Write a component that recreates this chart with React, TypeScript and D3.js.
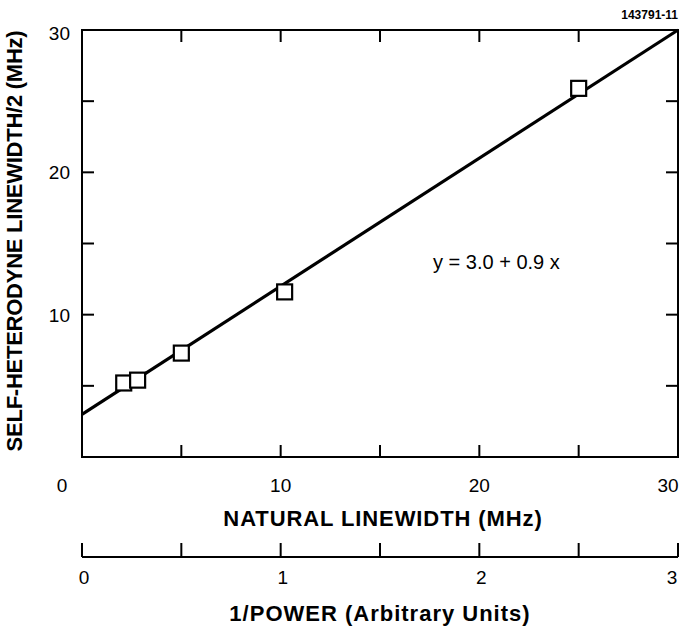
import React from "react";
import * as d3 from "d3";

const xTicks = [0, 5, 10, 15, 20, 25, 30];
const yTicks = [0, 5, 10, 15, 20, 25, 30];
const xTickLabels = [0, 10, 20, 30];
const yTickLabels = [10, 20, 30];
const powerTicks = [0, 0.5, 1, 1.5, 2, 2.5, 3];
const powerTickLabels = [0, 1, 2, 3];
const naturalLinewidth = [2.1, 2.8, 5.0, 10.2, 25.0];
const selfHetLinewidth = [5.2, 5.4, 7.3, 11.6, 25.9];
const fitIntercept = 3.0;
const fitSlope = 0.9;

export default function App() {
  const W = 691, H = 629;
  const left = 82, right = 678, top = 30, bottom = 457;
  const x = d3.scaleLinear().domain([0, 30]).range([left, right]);
  const y = d3.scaleLinear().domain([0, 30]).range([bottom, top]);
  const p = d3.scaleLinear().domain([0, 3]).range([left, right]);
  const axis2Y = 557;
  const tickLen = 12;
  const font = "Liberation Sans, Arial, Helvetica, sans-serif";
  const line = d3.line<number>().x((d) => x(d)).y((d) => y(fitIntercept + fitSlope * d));
  const sq = 15;

  return (
    <svg width={W} height={H} style={{ position: "absolute", left: 0, top: 0 }} fontFamily={font}>
      <rect x={0} y={0} width={W} height={H} fill="#fff" />
      <text x={678} y={19} textAnchor="end" fontSize={12} fontWeight="bold">143791-11</text>
      {/* frame */}
      <rect x={left} y={top} width={right - left} height={bottom - top} fill="none" stroke="#000" strokeWidth={2} />
      {xTicks.slice(1, -1).map((t) => (
        <g key={"xt" + t}>
          <line x1={x(t)} x2={x(t)} y1={bottom} y2={bottom - tickLen} stroke="#000" strokeWidth={2} />
          <line x1={x(t)} x2={x(t)} y1={top} y2={top + tickLen} stroke="#000" strokeWidth={2} />
        </g>
      ))}
      {yTicks.slice(1, -1).map((t) => (
        <g key={"yt" + t}>
          <line x1={left} x2={left + tickLen} y1={y(t)} y2={y(t)} stroke="#000" strokeWidth={2} />
          <line x1={right} x2={right - tickLen} y1={y(t)} y2={y(t)} stroke="#000" strokeWidth={2} />
        </g>
      ))}
      {xTickLabels.map((t) => (
        <text
          key={"xl" + t}
          x={t === 0 ? x(t) - 20 : t === 30 ? x(t) - 10 : x(t)}
          y={492}
          textAnchor="middle"
          fontSize={19}
        >
          {t}
        </text>
      ))}
      {yTickLabels.map((t) => (
        <text key={"yl" + t} x={70} y={y(t) + (t === 30 ? 10 : 7)} textAnchor="end" fontSize={19}>
          {t}
        </text>
      ))}
      <text x={(left + right) / 2 + 3} y={526} textAnchor="middle" fontSize={22} fontWeight="bold" letterSpacing={0.9}>
        NATURAL LINEWIDTH (MHz)
      </text>
      <text
        transform={`translate(22, 241) rotate(-90)`}
        textAnchor="middle"
        fontSize={22}
        fontWeight="bold"
        letterSpacing={-0.25}
      >
        SELF-HETERODYNE LINEWIDTH/2 (MHz)
      </text>
      {/* fit line */}
      <path d={line([0, 30]) || ""} fill="none" stroke="#000" strokeWidth={3.2} />
      {/* data squares */}
      {naturalLinewidth.map((v, i) => (
        <rect
          key={"pt" + i}
          x={x(v) - sq / 2}
          y={y(selfHetLinewidth[i]) - sq / 2}
          width={sq}
          height={sq}
          fill="#fff"
          stroke="#000"
          strokeWidth={2.2}
        />
      ))}
      <text x={433} y={269} fontSize={20}>y = 3.0 + 0.9 x</text>
      {/* second axis */}
      <line x1={p(0)} x2={p(3)} y1={axis2Y} y2={axis2Y} stroke="#000" strokeWidth={2} />
      {powerTicks.map((t) => (
        <line key={"pt2" + t} x1={p(t)} x2={p(t)} y1={axis2Y} y2={axis2Y - 14} stroke="#000" strokeWidth={2} />
      ))}
      {powerTickLabels.map((t) => (
        <text key={"pl" + t} x={t === 3 ? p(t) - 6 : p(t) + 2} y={584} textAnchor="middle" fontSize={19}>
          {t}
        </text>
      ))}
      <text x={(left + right) / 2} y={621} textAnchor="middle" fontSize={22} fontWeight="bold" letterSpacing={1}>
        1/POWER (Arbitrary Units)
      </text>
    </svg>
  );
}
